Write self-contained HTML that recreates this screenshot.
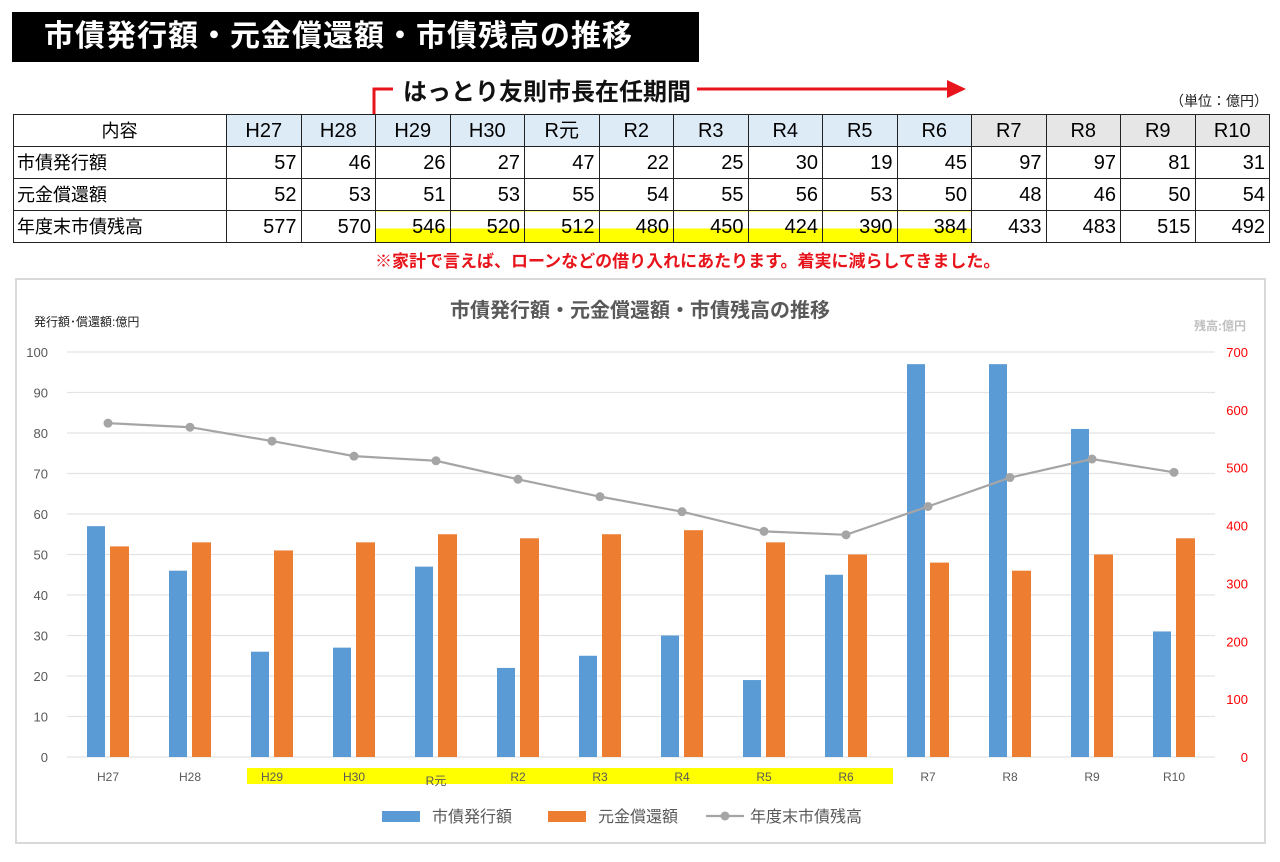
<!DOCTYPE html>
<html><head><meta charset="utf-8">
<style>
body{margin:0;width:1280px;height:862px;background:#fff;position:relative;overflow:hidden;font-family:"Liberation Sans","Noto Sans CJK JP",sans-serif;}
.abs{position:absolute;}
#title{left:12px;top:12px;width:687px;height:50px;background:#000;color:#fff;font-size:30px;font-weight:bold;line-height:50px;padding-left:32px;box-sizing:border-box;letter-spacing:1px;}
table{position:absolute;left:13px;top:114px;border-collapse:collapse;font-family:"Liberation Sans Narrow","Liberation Sans","Noto Sans CJK JP",sans-serif;font-size:20px;}
td{border:1.5px solid #222;height:32px;padding:0 4px;text-align:right;box-sizing:border-box;line-height:20px;}
td.lab{text-align:left;width:213px;font-family:"Liberation Sans","Noto Sans CJK JP",sans-serif;font-size:18px;padding-left:3px;}
tr.hd td{text-align:center;}
td.b{background:#ddebf7;}
td.g{background:#e7e6e6;}
td.n{width:74.5px;}
td.y{background:linear-gradient(to bottom,#fff 0,#fff 55%,#ffff00 55%,#ffff00 100%);}
</style></head><body>
<div id="title" class="abs">市債発行額・元金償還額・市債残高の推移</div>
<svg class="abs" style="left:0;top:0" width="1280" height="114">
<path d="M374 130 V89 H393" stroke="#e8141b" stroke-width="3" fill="none"/>
<path d="M697 89 H950" stroke="#e8141b" stroke-width="3"/>
<path d="M947 80 L966 89 L947 98 Z" fill="#e8141b"/>
</svg>
<div class="abs" style="left:403px;top:72px;font-size:24px;font-weight:bold;color:#111;">はっとり友則市長在任期間</div>
<div class="abs" style="left:1170px;top:91px;font-size:14px;color:#222;">（単位：億円）</div>
<table>
<tr class="hd"><td class="lab" style="text-align:center">内容</td><td class="n b">H27</td><td class="n b">H28</td><td class="n b">H29</td><td class="n b">H30</td><td class="n b">R元</td><td class="n b">R2</td><td class="n b">R3</td><td class="n b">R4</td><td class="n b">R5</td><td class="n b">R6</td><td class="n g">R7</td><td class="n g">R8</td><td class="n g">R9</td><td class="n g">R10</td></tr>
<tr><td class="lab">市債発行額</td><td>57</td><td>46</td><td>26</td><td>27</td><td>47</td><td>22</td><td>25</td><td>30</td><td>19</td><td>45</td><td>97</td><td>97</td><td>81</td><td>31</td></tr>
<tr><td class="lab">元金償還額</td><td>52</td><td>53</td><td>51</td><td>53</td><td>55</td><td>54</td><td>55</td><td>56</td><td>53</td><td>50</td><td>48</td><td>46</td><td>50</td><td>54</td></tr>
<tr><td class="lab">年度末市債残高</td><td>577</td><td>570</td><td class="y">546</td><td class="y">520</td><td class="y">512</td><td class="y">480</td><td class="y">450</td><td class="y">424</td><td class="y">390</td><td class="y">384</td><td>433</td><td>483</td><td>515</td><td>492</td></tr>
</table>
<div class="abs" style="left:375px;top:247px;font-size:17px;font-weight:bold;color:#e8141b;">※家計で言えば、ローンなどの借り入れにあたります。着実に減らしてきました。</div>
<div class="abs" style="left:15px;top:278px;width:1251px;height:566px;border:2px solid #d9d9d9;box-sizing:border-box;"></div>
<svg id="chart" class="abs" style="left:0;top:0" width="1280" height="862"></svg>
<script>
const categories=["H27","H28","H29","H30","R元","R2","R3","R4","R5","R6","R7","R8","R9","R10"];
const issuance=[57,46,26,27,47,22,25,30,19,45,97,97,81,31];
const repayment=[52,53,51,53,55,54,55,56,53,50,48,46,50,54];
const balance=[577,570,546,520,512,480,450,424,390,384,433,483,515,492];
const leftTicks=[0,10,20,30,40,50,60,70,80,90,100];
const rightTicks=[0,100,200,300,400,500,600,700];
const NS="http://www.w3.org/2000/svg";
const svg=document.getElementById('chart');
const x0=67,x1=1215,yTop=352,yBot=757;
const step=(x1-x0)/categories.length;
function xc(i){return x0+step*(i+0.5);}
function yl(v){return yBot-(v/100)*(yBot-yTop);}
function yr(v){return yBot-(v/700)*(yBot-yTop);}
function mk(tag,attrs){const e=document.createElementNS(NS,tag);for(const k in attrs)e.setAttribute(k,attrs[k]);svg.appendChild(e);return e;}
function tx(x,y,s,attrs){const e=mk('text',Object.assign({x:x,y:y},attrs));e.textContent=s;return e;}
let t=tx(640,317,"市債発行額・元金償還額・市債残高の推移",{'text-anchor':'middle','font-size':20,fill:'#595959','font-weight':'bold'});


t=tx(34,326,"発行額･償還額:億円",{'font-size':12,fill:'#222'});


t=tx(1246,330,"残高:億円",{'font-size':12,fill:'#bfbfbf','text-anchor':'end','font-weight':'bold'});


leftTicks.forEach(v=>{
 const g=mk('line',{x1:x0,x2:x1,y1:yl(v),y2:yl(v),stroke:'#e3e3e3','stroke-width':1.2});
 
 
 const l=tx(48,yl(v)+5,String(v),{'text-anchor':'end','font-size':13,fill:'#595959'});
 
 
});
rightTicks.forEach(v=>{
 const l=tx(1248,yr(v)+5,String(v),{'text-anchor':'end','font-size':13,fill:'#ff0000'});
 
 
});
const band=mk('rect',{x:247,y:768,width:646,height:16,fill:'#ffff00'});


categories.forEach((c,i)=>{
 const b=mk('rect',{x:xc(i)-21,y:yl(issuance[i]),width:18,height:yBot-yl(issuance[i]),fill:'#5b9bd5'});
 
 
 const o=mk('rect',{x:xc(i)+2,y:yl(repayment[i]),width:19,height:yBot-yl(repayment[i]),fill:'#ed7d31'});
 
 
 const l=tx(xc(i),c==="R元"?785:781,c,{'text-anchor':'middle','font-size':12,fill:'#595959'});
 
 
});
const p=mk('polyline',{points:balance.map((v,i)=>xc(i)+','+yr(v)).join(' '),fill:'none',stroke:'#a5a5a5','stroke-width':2.2});


balance.forEach((v,i)=>{
 const d=mk('circle',{cx:xc(i),cy:yr(v),r:4.5,fill:'#a5a5a5'});
 
 
});
let e=mk('rect',{x:382,y:811,width:38,height:11,fill:'#5b9bd5'});


e=tx(432,822,"市債発行額",{'font-size':16,fill:'#595959'});


e=mk('rect',{x:548,y:811,width:38,height:11,fill:'#ed7d31'});


e=tx(598,822,"元金償還額",{'font-size':16,fill:'#595959'});


e=mk('line',{x1:706,x2:744,y1:816,y2:816,stroke:'#a5a5a5','stroke-width':2.2});


e=mk('circle',{cx:725,cy:816,r:4.5,fill:'#a5a5a5'});


e=tx(750,822,"年度末市債残高",{'font-size':16,fill:'#595959'});


</script>
</body></html>
